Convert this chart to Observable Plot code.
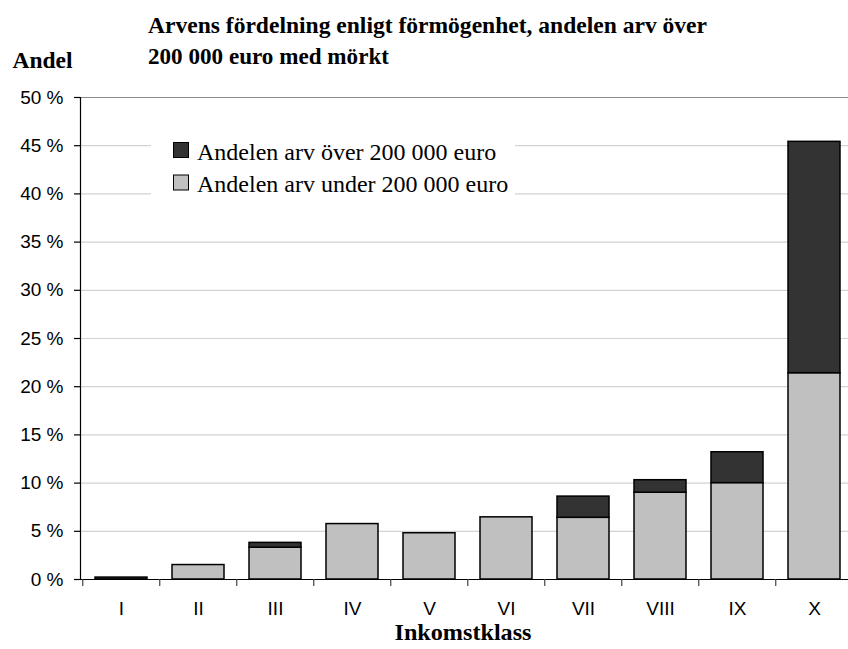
<!DOCTYPE html>
<html>
<head>
<meta charset="utf-8">
<script src="https://cdn.jsdelivr.net/npm/d3@7"></script>
<script src="https://cdn.jsdelivr.net/npm/@observablehq/plot@0.6"></script>
<style>
  html, body { margin: 0; padding: 0; background: #fff; }
  #wrap { position: relative; width: 848px; height: 649px; }
  #wrap svg { position: absolute; left: 0; top: 0; }
  .serif { font-family: "Liberation Serif", "Times New Roman", serif; }
</style>
</head>
<body>
<div id="wrap"></div>
<script>
// ---- data ----
const classes = ["I", "II", "III", "IV", "V", "VI", "VII", "VIII", "IX", "X"];
const under = [0, 1.5, 3.3, 5.75, 4.8, 6.45, 6.4, 9.0, 10.0, 21.4];
const over = [0.2, 0, 0.5, 0, 0, 0, 2.2, 1.3, 3.2, 24.0];
const seriesNames = ["Andelen arv under 200 000 euro", "Andelen arv över 200 000 euro"];
const yTicks = [0, 5, 10, 15, 20, 25, 30, 35, 40, 45, 50];
const titleLines = ["Arvens fördelning enligt förmögenhet, andelen arv över", "200 000 euro med mörkt"];
const yLabel = "Andel";
const xLabel = "Inkomstklass";

const rows = [];
classes.forEach((k, i) => {
  if (under[i] > 0) rows.push({klass: k, del: seriesNames[0], value: under[i]});
  if (over[i] > 0) rows.push({klass: k, del: seriesNames[1], value: over[i]});
});

const W = 848, H = 649;
const left = 80, xEnd = 855;
const step = (xEnd - left) / classes.length;

const sans = "'Liberation Sans', Arial, sans-serif";

const chart = Plot.plot({
  width: W, height: H,
  marginTop: 97, marginBottom: 70, marginLeft: left, marginRight: 0,
  style: {background: "#fff", color: "#000", fontFamily: sans},
  x: {domain: classes, range: [left, xEnd], paddingInner: 0.33, paddingOuter: 0.165},
  y: {domain: [0, 50]},
  color: {domain: seriesNames, range: ["#c0c0c0", "#333333"]},
  marks: [
    Plot.ruleY(yTicks.filter(v => v > 0 && v < 50), {stroke: "#d2d2d2", strokeWidth: 1.2}),
    Plot.ruleY([50], {stroke: "#8c8c8c", strokeWidth: 1.2}),
    Plot.barY(rows, {x: "klass", y: "value", fill: "del", stroke: "#000", strokeWidth: 1.5}),
    Plot.ruleY([0], {stroke: "#000", strokeWidth: 1.2}),
    Plot.frame({anchor: "left", stroke: "#000", strokeWidth: 1.2}),
    Plot.axisY({ticks: yTicks, tickSize: 6, tickPadding: 11, tickFormat: d => d + " %", fontSize: 19, label: null, strokeWidth: 1.2}),
    Plot.axisX({tickSize: 7, text: null, dx: -step / 2, label: null, strokeWidth: 1.2, stroke: "#444"}),
    Plot.axisX({tickSize: 0, tickPadding: 22, fontSize: 19, label: null})
  ]
});
document.getElementById("wrap").appendChild(chart);

// ---- overlay: titles, axis labels, legend ----
const ov = d3.select("#wrap").append("svg")
  .attr("width", W).attr("height", H)
  .style("pointer-events", "none");

const tg = ov.append("g").attr("class", "serif").attr("font-weight", "bold").attr("font-size", 23.5).attr("fill", "#000");
tg.append("text").attr("x", 148).attr("y", 33).attr("textLength", 559).attr("lengthAdjust", "spacingAndGlyphs").text(titleLines[0]);
tg.append("text").attr("x", 148).attr("y", 63.5).attr("textLength", 241).attr("lengthAdjust", "spacingAndGlyphs").text(titleLines[1]);
tg.append("text").attr("x", 12.5).attr("y", 68).attr("textLength", 60).attr("lengthAdjust", "spacingAndGlyphs").text(yLabel);
tg.append("text").attr("x", 394.5).attr("y", 640).attr("textLength", 137).attr("lengthAdjust", "spacingAndGlyphs").attr("font-size", 23).text(xLabel);

const lg = ov.append("g").attr("class", "serif");
lg.append("rect").attr("x", 151).attr("y", 132).attr("width", 364).attr("height", 70).attr("fill", "#fff");
const legendItems = [seriesNames[1], seriesNames[0]];
const legendColors = ["#333333", "#c0c0c0"];
legendItems.forEach((name, i) => {
  lg.append("rect").attr("x", 173.5).attr("y", 142.5 + i * 32.5).attr("width", 15).attr("height", 15)
    .attr("fill", legendColors[i]).attr("stroke", "#000").attr("stroke-width", 1);
  lg.append("text").attr("x", 197).attr("y", 160 + i * 32).attr("font-size", 24).attr("fill", "#000").text(name);
});
</script>
</body>
</html>
